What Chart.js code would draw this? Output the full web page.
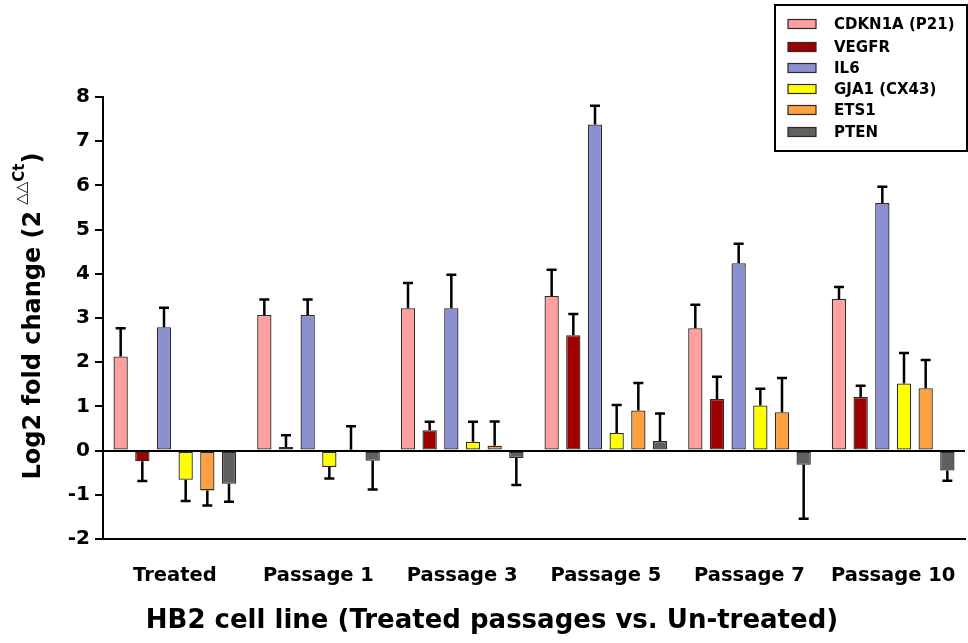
<!DOCTYPE html>
<html>
<head>
<meta charset="utf-8">
<script src="https://cdn.jsdelivr.net/npm/chart.js@4"></script>
<style>
  html, body { margin: 0; padding: 0; background: #fff; }
  #wrap { width: 968px; height: 643px; }
</style>
</head>
<body>
<div id="wrap"><canvas id="fold"></canvas></div>
<script>
// groups and genes
const categories = ['Treated', 'Passage 1', 'Passage 3', 'Passage 5', 'Passage 7', 'Passage 10'];
const genes = ['CDKN1A (P21)', 'VEGFR', 'IL6', 'GJA1 (CX43)', 'ETS1', 'PTEN'];

// mean log2 fold change per gene
const cdkn1a = [2.13, 3.07, 3.22, 3.50, 2.77, 3.43];
const vegfr  = [-0.24, 0.08, 0.46, 2.61, 1.17, 1.21];
const il6    = [2.79, 3.07, 3.22, 7.38, 4.24, 5.60];
const gja1   = [-0.66, -0.37, 0.20, 0.40, 1.02, 1.52];
const ets1   = [-0.90, 0.02, 0.11, 0.91, 0.87, 1.41];
const pten   = [-0.75, -0.23, -0.17, 0.22, -0.32, -0.45];

// SD (one-sided error bars)
const cdkn1aErr = [0.64, 0.35, 0.57, 0.59, 0.53, 0.27];
const vegfrErr  = [0.45, 0.27, 0.19, 0.48, 0.50, 0.26];
const il6Err    = [0.44, 0.35, 0.76, 0.42, 0.44, 0.37];
const gja1Err   = [0.48, 0.26, 0.45, 0.63, 0.38, 0.69];
const ets1Err   = [0.34, 0.53, 0.55, 0.62, 0.77, 0.64];
const ptenErr   = [0.41, 0.65, 0.61, 0.62, 1.22, 0.23];

const yTicks = [-2, -1, 0, 1, 2, 3, 4, 5, 6, 7, 8];

const colors = ['#ff9f9f', '#a00000', '#8b90d0', '#ffff00', '#ffa040', '#606060'];
const values = [cdkn1a, vegfr, il6, gja1, ets1, pten];
const errors = [cdkn1aErr, vegfrErr, il6Err, gja1Err, ets1Err, ptenErr];

const FONT = '"DejaVu Sans", Verdana, sans-serif';

const datasets = genes.map((g, i) => ({
  label: g,
  data: values[i],
  err: errors[i],
  backgroundColor: colors[i],
  borderColor: '#2a2a2a',
  borderWidth: 1.3,
  borderSkipped: false,
  categoryPercentage: 0.905,
  barPercentage: 0.66
}));

// SD whiskers drawn away from zero
const errorBars = {
  id: 'errorBars',
  afterDatasetsDraw(chart) {
    const ctx = chart.ctx;
    const y = chart.scales.y;
    ctx.save();
    ctx.strokeStyle = '#000';
    ctx.lineWidth = 2.5;
    chart.data.datasets.forEach((ds, di) => {
      const meta = chart.getDatasetMeta(di);
      meta.data.forEach((bar, j) => {
        const v = ds.data[j];
        const e = ds.err[j];
        const end = v >= 0 ? v + e : v - e;
        const y0 = y.getPixelForValue(v);
        const y1 = y.getPixelForValue(end);
        ctx.beginPath();
        ctx.moveTo(bar.x, y0);
        ctx.lineTo(bar.x, y1);
        ctx.moveTo(bar.x - 5, y1);
        ctx.lineTo(bar.x + 5, y1);
        ctx.stroke();
      });
    });
    ctx.restore();
  }
};

// category labels, axis titles and boxed legend
const decorations = {
  id: 'decorations',
  afterDraw(chart) {
    const ctx = chart.ctx;
    const xs = chart.scales.x;
    ctx.save();
    ctx.fillStyle = '#000';
    ctx.textAlign = 'center';
    ctx.textBaseline = 'middle';

    // group labels under the axis
    ctx.font = 'bold 19.5px ' + FONT;
    chart.data.labels.forEach((lab, i) => {
      ctx.fillText(lab, xs.getPixelForValue(i), 576);
    });

    // x title
    ctx.font = 'bold 26px ' + FONT;
    ctx.fillText('HB2 cell line (Treated passages vs. Un-treated)', 492, 621);

    // y title with superscript
    ctx.translate(40, 316);
    ctx.rotate(-Math.PI / 2);
    ctx.textBaseline = 'alphabetic';
    ctx.textAlign = 'left';
    const main = 'Log2 fold change (2';
    ctx.font = 'bold 24px ' + FONT;
    const wMain = ctx.measureText(main).width;
    const wClose = ctx.measureText(')').width;
    ctx.font = '15px ' + FONT;
    const wTri = ctx.measureText('\u25B3\u25B3').width;
    ctx.font = 'bold 15px ' + FONT;
    const wCt = ctx.measureText('Ct').width;
    const gap = 6;
    let x = -(wMain + gap + wTri + wCt + wClose) / 2;
    ctx.font = 'bold 24px ' + FONT;
    ctx.fillText(main, x, 0);
    x += wMain + gap;
    ctx.font = '15px ' + FONT;
    ctx.fillText('\u25B3\u25B3', x, -14);
    x += wTri;
    ctx.font = 'bold 15px ' + FONT;
    ctx.fillText('Ct', x, -16);
    x += wCt;
    ctx.font = 'bold 24px ' + FONT;
    ctx.fillText(')', x, 0);
    ctx.setTransform(1, 0, 0, 1, 0, 0);

    // legend
    ctx.lineWidth = 2;
    ctx.strokeStyle = '#000';
    ctx.strokeRect(775, 5, 192, 146);
    const rowY = [24, 47, 68, 89, 110, 132];
    ctx.font = 'bold 15px ' + FONT;
    ctx.textAlign = 'left';
    ctx.textBaseline = 'middle';
    chart.data.datasets.forEach((ds, i) => {
      ctx.fillStyle = ds.backgroundColor;
      ctx.fillRect(788, rowY[i] - 4.5, 28, 9);
      ctx.lineWidth = 1.2;
      ctx.strokeStyle = '#2a2a2a';
      ctx.strokeRect(788, rowY[i] - 4.5, 28, 9);
      ctx.fillStyle = '#000';
      ctx.fillText(ds.label, 834, rowY[i] + 1);
    });
    ctx.restore();
  }
};

new Chart(document.getElementById('fold'), {
  type: 'bar',
  data: { labels: categories, datasets: datasets },
  plugins: [errorBars, decorations],
  options: {
    responsive: true,
    maintainAspectRatio: false,
    animation: false,
    layout: { padding: { top: 97, right: 3, left: 0, bottom: 0 } },
    plugins: {
      legend: { display: false },
      tooltip: { enabled: false }
    },
    scales: {
      x: {
        afterFit: s => { s.height = 104; },
        grid: { display: false, drawTicks: false },
        border: { display: true, color: '#000', width: 2 },
        ticks: { display: false, padding: 0 }
      },
      y: {
        min: -2,
        max: 8,
        afterFit: s => { s.width = 103; },
        afterBuildTicks: s => { s.ticks = yTicks.map(v => ({ value: v })); },
        grid: {
          drawOnChartArea: true,
          color: c => (c.tick && c.tick.value === 0 ? '#000' : 'rgba(0,0,0,0)'),
          lineWidth: 2,
          tickColor: '#000',
          tickLength: 8,
          tickWidth: 2
        },
        border: { display: true, color: '#000', width: 2 },
        ticks: {
          color: '#000',
          padding: 5,
          font: { family: FONT, size: 20, weight: 'bold' }
        }
      }
    }
  }
});
</script>
</body>
</html>
